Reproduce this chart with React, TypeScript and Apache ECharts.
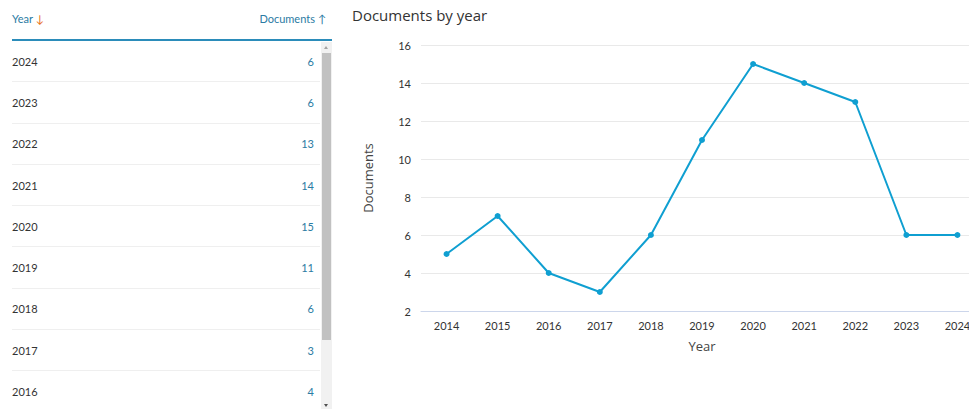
import React, { useEffect, useRef } from "react";
import * as echarts from "echarts";

const years = ["2014", "2015", "2016", "2017", "2018", "2019", "2020", "2021", "2022", "2023", "2024"];
const documents = [5, 7, 4, 3, 6, 11, 15, 14, 13, 6, 6];
const yTicks = { min: 2, max: 16, interval: 2 };
const visibleRows = 9;

const LINE_COLOR = "#0f9fd1";
const TEXT_BLUE = "#2b7ba3";

export default function App() {
  const ref = useRef<HTMLDivElement>(null);

  useEffect(() => {
    if (!ref.current) return;
    const chart = echarts.init(ref.current, null, { renderer: "svg" });
    chart.setOption({
      animation: false,
      title: {
        text: "Documents by year",
        left: 7,
        top: 2,
        textStyle: { fontFamily: "Open Sans", fontSize: 15, fontWeight: "normal", color: "#333" },
      },
      grid: { left: 81, top: 45, bottom: 98, right: 0 },
      xAxis: {
        type: "category",
        data: years,
        boundaryGap: true,
        name: "Year",
        nameLocation: "middle",
        nameGap: 28,
        nameTextStyle: { fontFamily: "Open Sans", fontSize: 13, color: "#444" },
        axisLine: { lineStyle: { color: "#ccd6eb", width: 1 } },
        axisTick: { show: false },
        axisLabel: { fontFamily: "Lato", fontSize: 11, color: "#333", margin: 9 },
      },
      yAxis: {
        type: "value",
        min: yTicks.min,
        max: yTicks.max,
        interval: yTicks.interval,
        name: "Documents",
        nameLocation: "middle",
        nameGap: 47,
        nameTextStyle: { fontFamily: "Open Sans", fontSize: 13, color: "#444" },
        axisLine: { show: false },
        axisTick: { show: false },
        axisLabel: { fontFamily: "Lato", fontSize: 11, color: "#333", margin: 10 },
        splitLine: { lineStyle: { color: "#e9e9e9", width: 1 } },
      },
      series: [
        {
          type: "line",
          data: documents,
          symbol: "circle",
          symbolSize: 6,
          lineStyle: { color: LINE_COLOR, width: 2 },
          itemStyle: { color: LINE_COLOR },
        },
      ],
    });
    return () => chart.dispose();
  }, []);

  const rows = years
    .map((y, i) => ({ year: y, count: documents[i] }))
    .reverse()
    .slice(0, visibleRows);

  return (
    <div
      style={{
        position: "fixed",
        left: 0,
        top: 0,
        width: 969,
        height: 409,
        background: "#fff",
        overflow: "hidden",
        fontFamily: "Lato",
      }}
    >
      {/* table header */}
      <div
        style={{
          position: "absolute",
          left: 12,
          top: 8,
          width: 314,
          height: 20,
          display: "flex",
          justifyContent: "space-between",
          alignItems: "center",
          fontSize: 11,
          color: TEXT_BLUE,
        }}
      >
        <span>
          Year <span style={{ color: "#e9711c" }}>↓</span>
        </span>
        <span>
          Documents <span>↑</span>
        </span>
      </div>
      <div style={{ position: "absolute", left: 12, top: 39, width: 320, height: 2, background: "#2b8cba" }} />
      {/* rows */}
      <div style={{ position: "absolute", left: 12, top: 41, width: 308, height: 368, overflow: "hidden" }}>
        {rows.map((r) => (
          <div
            key={r.year}
            style={{
              height: 41.3,
              boxSizing: "border-box",
              borderBottom: "1px solid #efefef",
              display: "flex",
              justifyContent: "space-between",
              alignItems: "center",
              paddingRight: 6,
              fontSize: 11,
            }}
          >
            <span style={{ color: "#333" }}>{r.year}</span>
            <span style={{ color: TEXT_BLUE }}>{r.count}</span>
          </div>
        ))}
      </div>
      {/* scrollbar */}
      <div style={{ position: "absolute", left: 321, top: 42, width: 11, height: 367, background: "#f1f1f1" }} />
      <div style={{ position: "absolute", left: 322, top: 53, width: 9, height: 287, background: "#c1c1c1" }} />
      <div
        style={{
          position: "absolute",
          left: 324,
          top: 46,
          width: 0,
          height: 0,
          borderLeft: "2.5px solid transparent",
          borderRight: "2.5px solid transparent",
          borderBottom: "3px solid #a3a3a3",
        }}
      />
      <div
        style={{
          position: "absolute",
          left: 324,
          top: 404,
          width: 0,
          height: 0,
          borderLeft: "2.5px solid transparent",
          borderRight: "2.5px solid transparent",
          borderTop: "3px solid #505050",
        }}
      />
      {/* chart (extends past the right edge, as in the reference) */}
      <div ref={ref} style={{ position: "absolute", left: 340, top: 0, width: 643, height: 409 }} />
    </div>
  );
}
